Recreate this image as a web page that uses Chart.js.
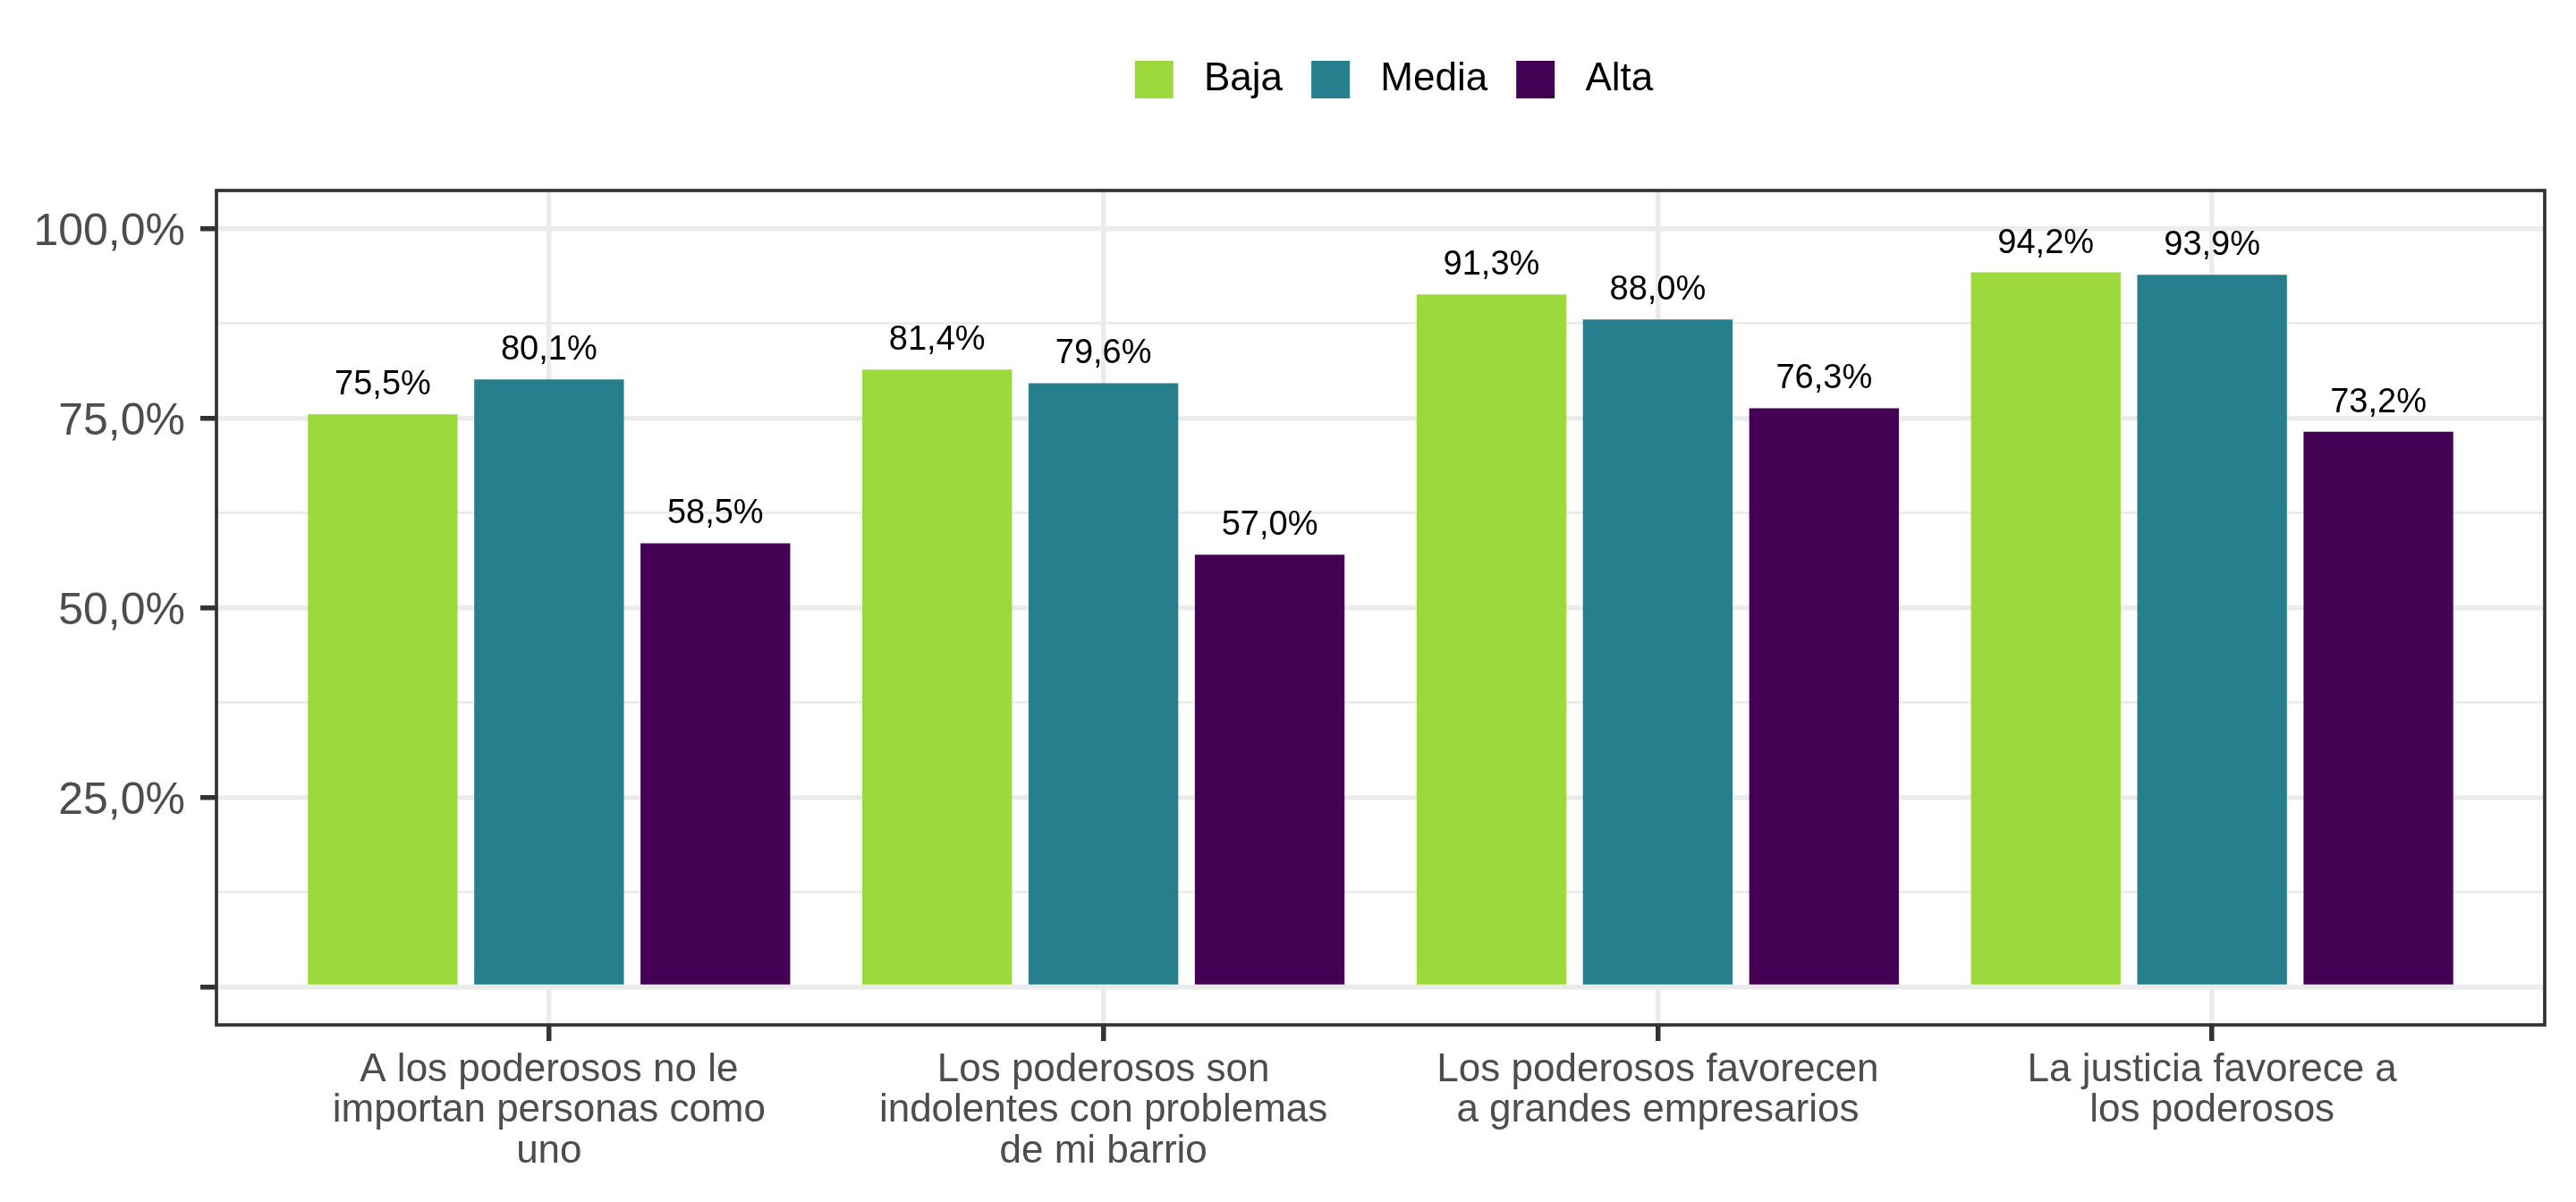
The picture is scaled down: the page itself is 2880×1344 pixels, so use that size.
<!DOCTYPE html>
<html lang="es">
<head>
<meta charset="utf-8">
<title>Percepción sobre los poderosos</title>
<script src="https://cdn.jsdelivr.net/npm/chart.js@4.4.1/dist/chart.umd.min.js"></script>
<style>
  html, body { margin: 0; padding: 0; background: #ffffff; }
  canvas { display: block; }
</style>
</head>
<body>
<canvas id="grafico" width="2880" height="1344"></canvas>
<script>
const categorias = [
  ["A los poderosos no le", "importan personas como", "uno"],
  ["Los poderosos son", "indolentes con problemas", "de mi barrio"],
  ["Los poderosos favorecen", "a grandes empresarios"],
  ["La justicia favorece a", "los poderosos"]
];

const series = ["Baja", "Media", "Alta"];
const baja = [75.5, 81.4, 91.3, 94.2];
const media = [80.1, 79.6, 88.0, 93.9];
const alta = [58.5, 57.0, 76.3, 73.2];

const colores = ["#9bd93c", "#277f8e", "#440154"];
const marcasY = [0, 25, 50, 75, 100];

const fuente = "'Liberation Sans', Arial, sans-serif";

function formatoPct(v) {
  return v.toFixed(1).replace(".", ",") + "%";
}

function armarDataset(nombre, valores, color) {
  return {
    label: nombre,
    data: valores.map((v, i) => ({ x: i, y: v })),
    backgroundColor: color,
    borderWidth: 0,
    categoryPercentage: 0.9,
    barPercentage: 0.9
  };
}

const etiquetasBarras = {
  id: "etiquetasBarras",
  afterDatasetsDraw(chart) {
    const ctx = chart.ctx;
    ctx.save();
    ctx.font = "38px " + fuente;
    ctx.fillStyle = "#000000";
    ctx.textAlign = "center";
    ctx.textBaseline = "alphabetic";
    chart.data.datasets.forEach((ds, d) => {
      chart.getDatasetMeta(d).data.forEach((barra, i) => {
        ctx.fillText(formatoPct(ds.data[i].y), barra.x, barra.y - 22);
      });
    });
    ctx.restore();
  }
};

const bordePanel = {
  id: "bordePanel",
  afterDatasetsDraw(chart) {
    const { ctx, chartArea } = chart;
    ctx.save();
    ctx.strokeStyle = "#333333";
    ctx.lineWidth = 3.7;
    ctx.strokeRect(chartArea.left, chartArea.top, chartArea.right - chartArea.left, chartArea.bottom - chartArea.top);
    ctx.restore();
  }
};

// mueve la leyenda hacia arriba, como en el original
const posicionLeyenda = {
  id: "posicionLeyenda",
  afterLayout(chart) {
    const leyenda = chart.legend;
    leyenda.top -= 92;
    leyenda.bottom -= 92;
    leyenda.left += 15;
    leyenda.right += 15;
  }
};

new Chart(document.getElementById("grafico"), {
  type: "bar",
  data: {
    datasets: [
      armarDataset(series[0], baja, colores[0]),
      armarDataset(series[1], media, colores[1]),
      armarDataset(series[2], alta, colores[2])
    ]
  },
  options: {
    responsive: false,
    animation: false,
    layout: {
      padding: { top: 127, right: 35, bottom: 0, left: 0 }
    },
    plugins: {
      legend: {
        display: true,
        position: "top",
        fullSize: false,
        labels: {
          boxWidth: 43,
          boxHeight: 42,
          padding: 32,
          color: "#000000",
          font: { family: fuente, size: 44 },
          generateLabels(chart) {
            return Chart.defaults.plugins.legend.labels.generateLabels(chart)
              .map(item => ({ ...item, text: " " + item.text }));
          }
        }
      },
      tooltip: { enabled: false }
    },
    scales: {
      x: {
        type: "linear",
        min: -0.6,
        max: 3.6,
        offset: false,
        afterFit(scale) { scale.height = 198; },
        border: { display: false },
        grid: {
          offset: false,
          color: "#ebebeb",
          lineWidth: 5.5,
          drawTicks: true,
          tickLength: 18,
          tickWidth: 5.5,
          tickColor: "#333333"
        },
        ticks: {
          stepSize: 1,
          includeBounds: false,
          autoSkip: false,
          maxRotation: 0,
          minRotation: 0,
          padding: 10,
          color: "#4d4d4d",
          font: { family: fuente, size: 44, lineHeight: 1.034 },
          callback: value => categorias[value] || ""
        }
      },
      y: {
        min: -5,
        max: 105,
        afterFit(scale) { scale.width = 242; },
        border: { display: false },
        grid: {
          color: "#ebebeb",
          lineWidth: ctx => marcasY.includes(ctx.tick.value) ? 5.5 : 2.7,
          drawTicks: true,
          tickLength: 18,
          tickWidth: 5.5,
          tickColor: ctx => marcasY.includes(ctx.tick.value) ? "#333333" : "rgba(0,0,0,0)"
        },
        ticks: {
          stepSize: 12.5,
          includeBounds: false,
          autoSkip: false,
          padding: 17,
          labelOffset: 5,
          color: "#4d4d4d",
          font: { family: fuente, size: 50 },
          callback: value => (value > 0 && marcasY.includes(value)) ? formatoPct(value) : ""
        }
      }
    }
  },
  plugins: [etiquetasBarras, bordePanel, posicionLeyenda]
});
</script>
</body>
</html>
